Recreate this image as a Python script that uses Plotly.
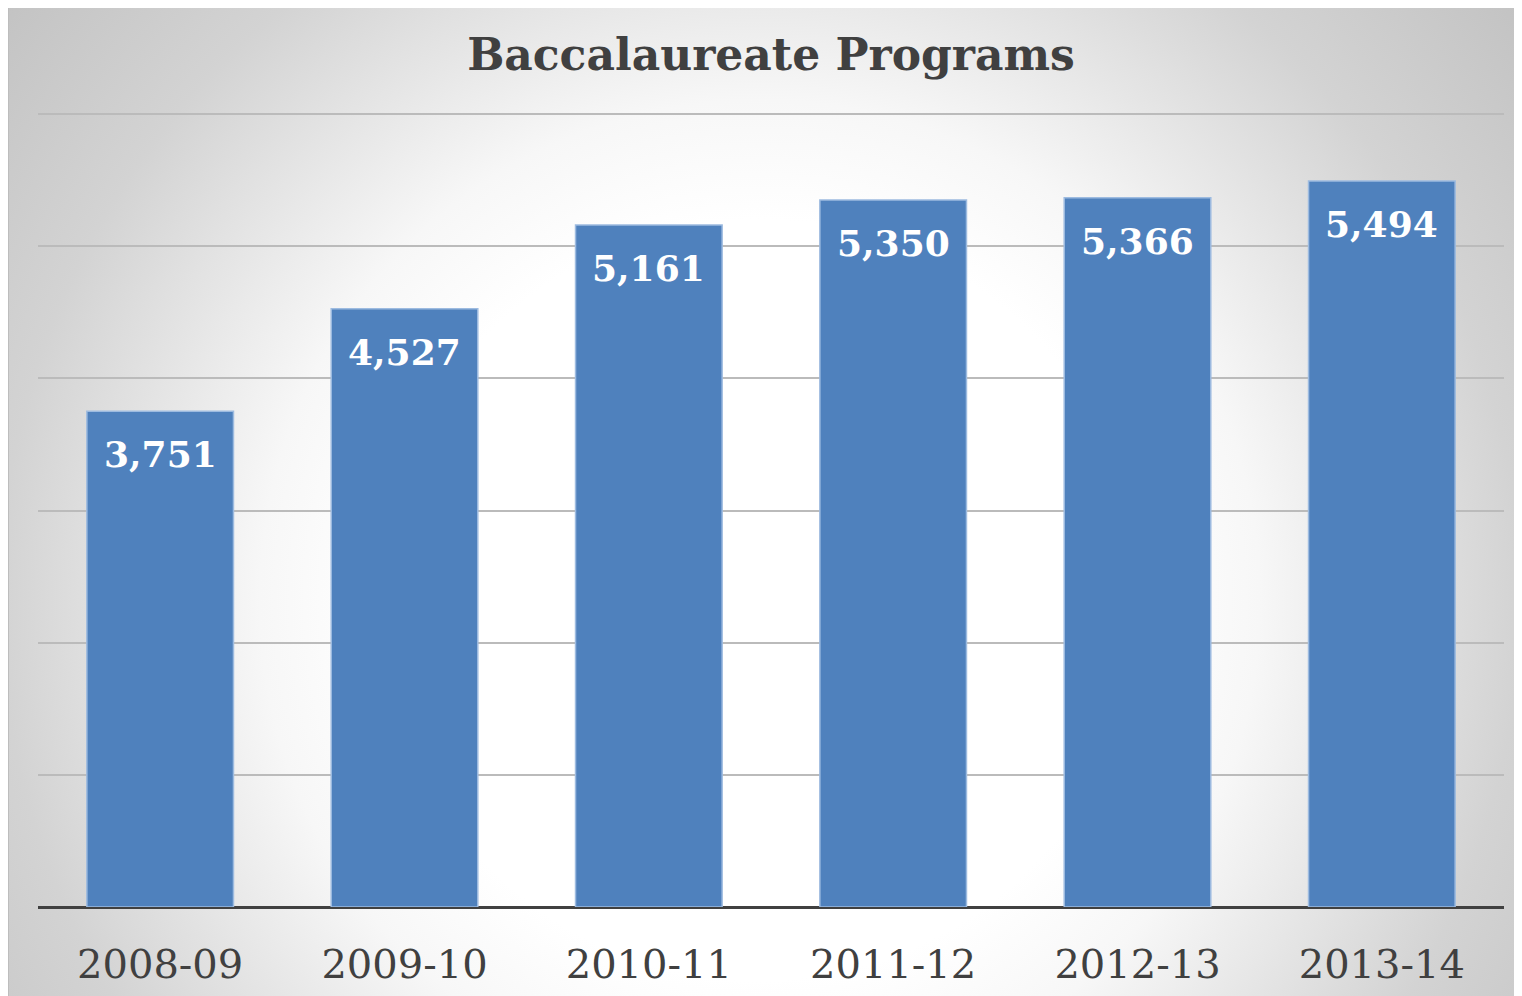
import base64
import plotly.graph_objects as go

categories = ["2008-09", "2009-10", "2010-11", "2011-12", "2012-13", "2013-14"]
values = [3751, 4527, 5161, 5350, 5366, 5494]
labels = ["3,751", "4,527", "5,161", "5,350", "5,366", "5,494"]
title_text = "Baccalaureate Programs"

# page body has an 8px margin, so the figure is drawn from (8, 8)
W, H = 1514, 988
ml, mr, mt, mb = 30, 18, 105, 89
pw = W - ml - mr
ph = H - mt - mb

svg = """<svg xmlns='http://www.w3.org/2000/svg' width='1514' height='988' viewBox='0 0 1514 988' preserveAspectRatio='none'>
<defs><radialGradient id='g' gradientUnits='userSpaceOnUse' cx='752' cy='592' r='1000'>
<stop offset='0' stop-color='#ffffff'/>
<stop offset='0.38' stop-color='#ffffff'/>
<stop offset='0.5' stop-color='#f7f7f7'/>
<stop offset='0.76' stop-color='#d3d3d3'/>
<stop offset='1' stop-color='#c0c0c0'/>
</radialGradient></defs>
<rect x='0' y='0' width='1514' height='988' fill='url(#g)'/>
<line x1='0.5' y1='0' x2='0.5' y2='988' stroke='#bdbdbd' stroke-width='1'/>
</svg>"""
src = "data:image/svg+xml;base64," + base64.b64encode(svg.encode()).decode()

fig = go.Figure()
fig.add_trace(go.Bar(
    x=categories, y=values,
    marker=dict(color="#4F81BD", line=dict(color="#9DBBE0", width=1.5)),
    hoverinfo="skip",
))

for c, v, t in zip(categories, values, labels):
    fig.add_annotation(x=c, y=v, text="<b>" + t + "</b>", showarrow=False,
                       yanchor="top", yshift=-20,
                       font=dict(family="DejaVu Serif", size=36, color="#FFFFFF"))

fig.add_layout_image(dict(
    source=src, xref="paper", yref="paper",
    x=-ml / pw, y=(H - mb) / ph,
    sizex=W / pw, sizey=H / ph,
    xanchor="left", yanchor="top", sizing="stretch", layer="below",
))

fig.update_layout(
    width=W, height=H,
    margin=dict(l=ml, r=mr, t=mt, b=mb),
    paper_bgcolor="#FFFFFF", plot_bgcolor="rgba(0,0,0,0)",
    bargap=0.4, showlegend=False,
    title=dict(text="<b>" + title_text + "</b>", x=0.5, xref="paper", xanchor="center",
               y=1 - 47 / H, yref="container", yanchor="middle",
               font=dict(family="DejaVu Serif", size=44, color="#404040")),
    xaxis=dict(type="category", automargin=False, tickangle=0,
               showgrid=False, showline=False, zeroline=False,
               ticks="outside", ticklen=22, tickcolor="rgba(0,0,0,0)",
               tickfont=dict(family="DejaVu Serif", size=40, color="#404040")),
    yaxis=dict(range=[0, 6008], tickvals=[1000, 2000, 3000, 4000, 5000, 6000],
               showticklabels=False, automargin=False,
               showgrid=True, gridcolor="#BBBBBB", gridwidth=1.5,
               zeroline=True, zerolinecolor="#404040", zerolinewidth=3,
               showline=False),
)

fig.write_html("out.html")
